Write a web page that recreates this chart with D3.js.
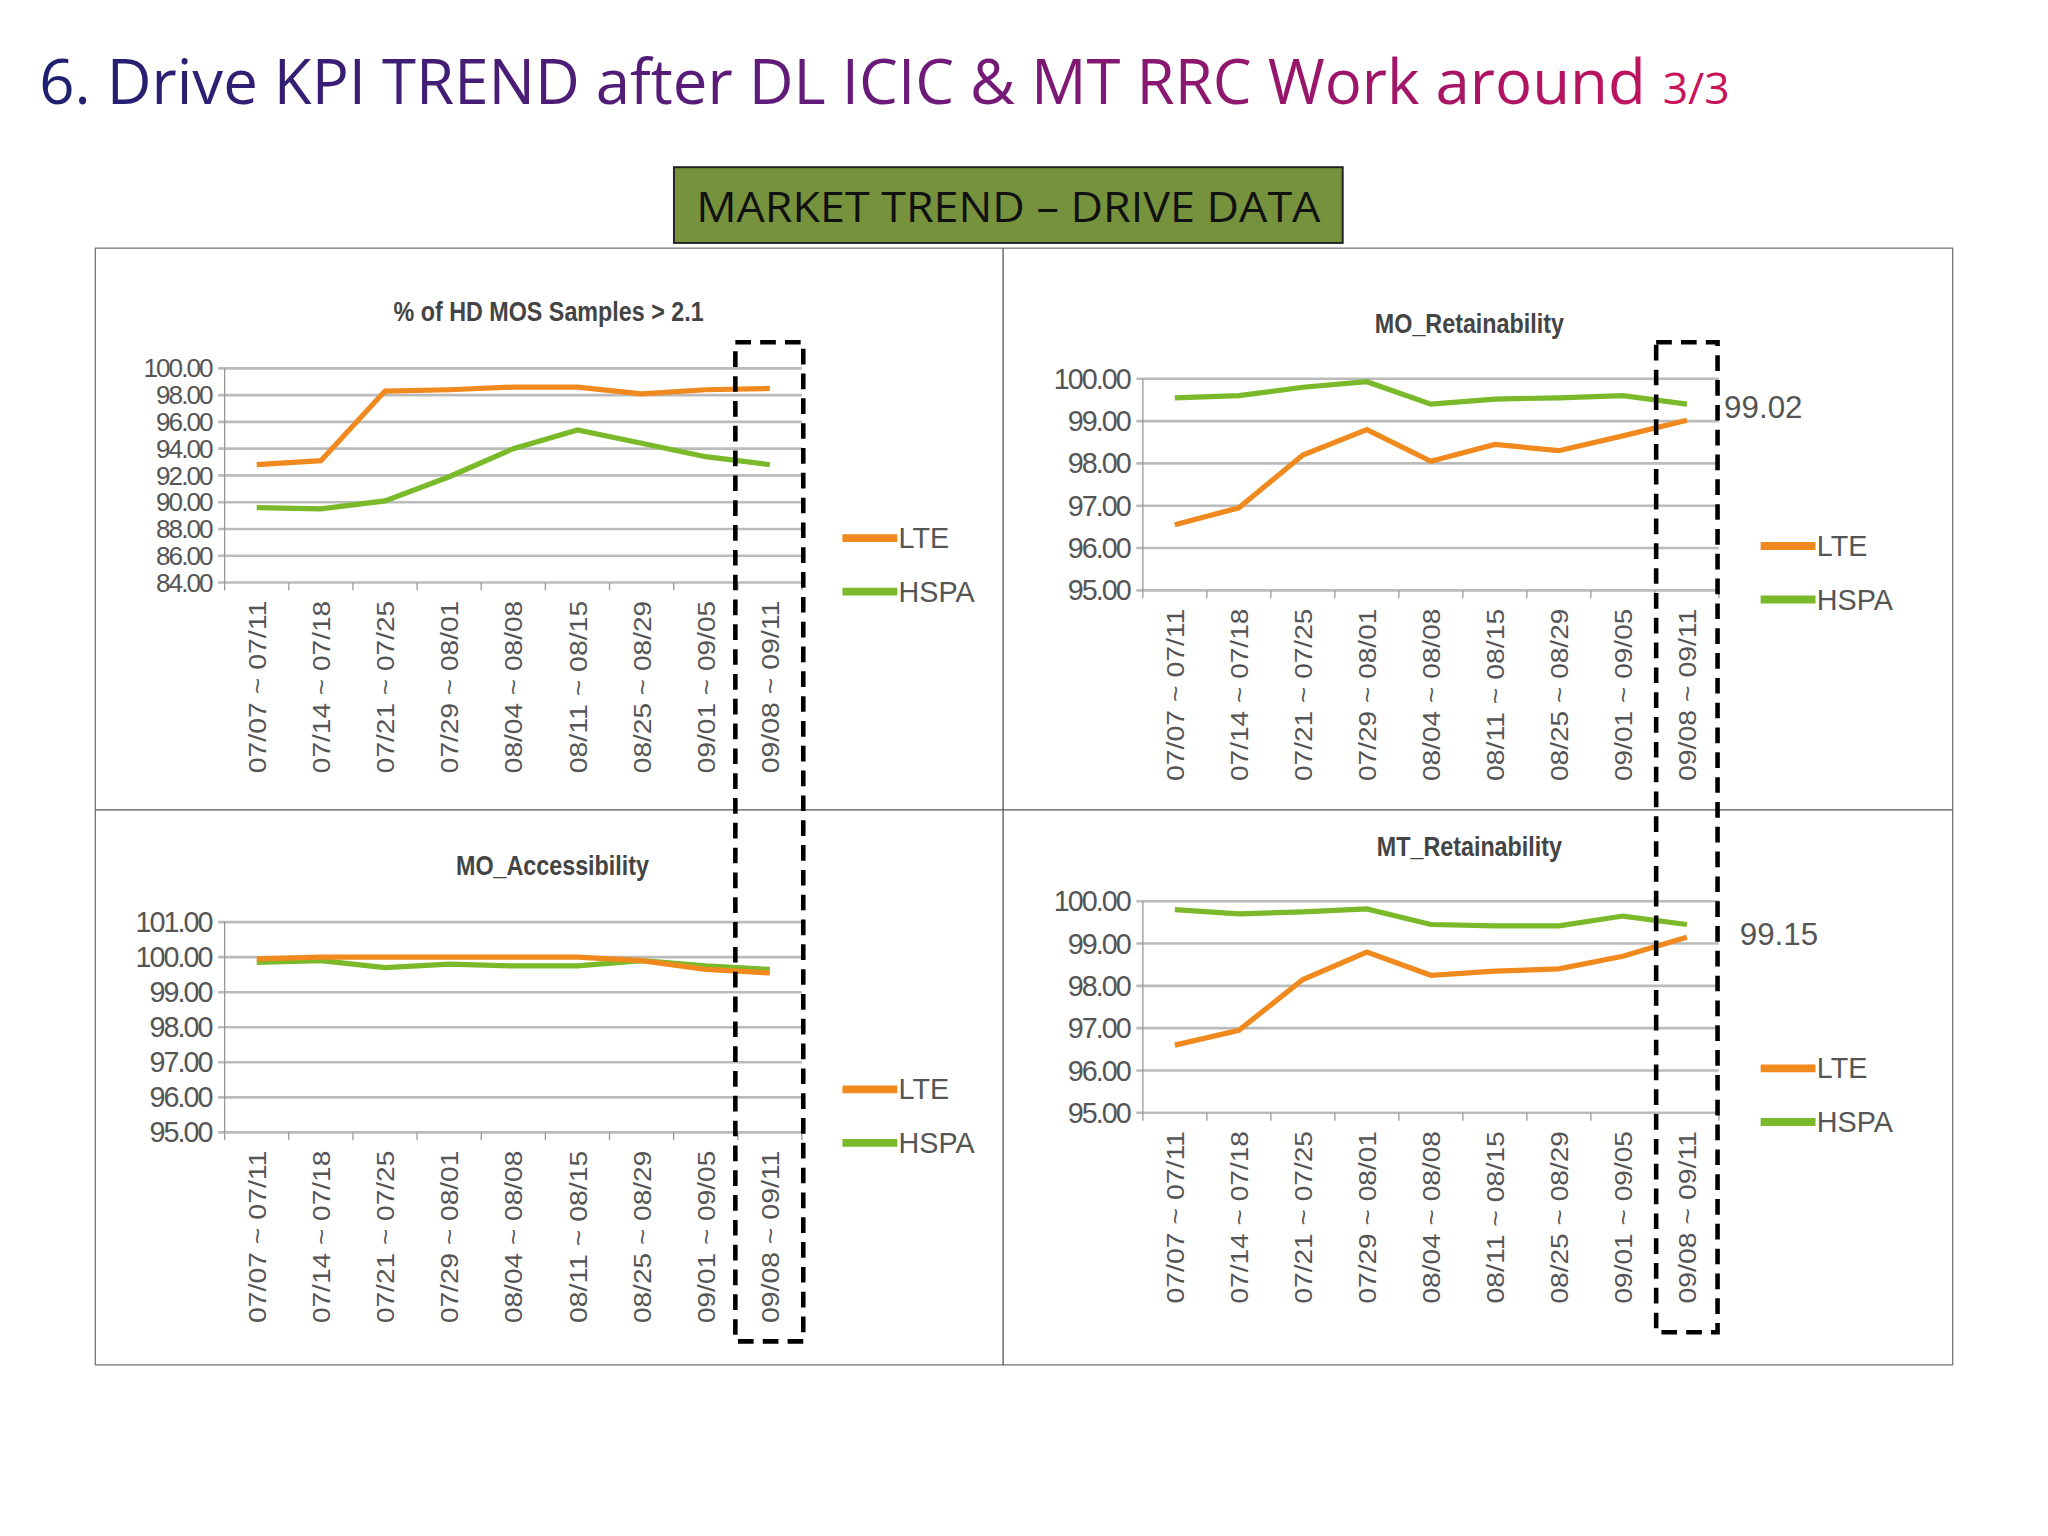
<!DOCTYPE html>
<html><head><meta charset="utf-8">
<script src="https://cdn.jsdelivr.net/npm/d3@7"></script>
<style>body{margin:0;background:#fff}</style>
</head><body><div id="chart"></div>
<script>
const categories = ['07/07 ~ 07/11','07/14 ~ 07/18','07/21 ~ 07/25','07/29 ~ 08/01','08/04 ~ 08/08','08/11 ~ 08/15','08/25 ~ 08/29','09/01 ~ 09/05','09/08 ~ 09/11']
const mosLTE = [92.8, 93.1, 98.3, 98.4, 98.6, 98.6, 98.1, 98.4, 98.5]
const mosHSPA = [89.6, 89.5, 90.1, 91.9, 94.0, 95.4, 94.4, 93.4, 92.8]
const moRetLTE = [96.55, 96.95, 98.2, 98.8, 98.05, 98.45, 98.3, 98.65, 99.02]
const moRetHSPA = [99.55, 99.6, 99.8, 99.93, 99.4, 99.52, 99.55, 99.6, 99.4]
const moAccLTE = [99.95, 100, 100, 100, 100, 100, 99.9, 99.65, 99.55]
const moAccHSPA = [99.85, 99.9, 99.7, 99.8, 99.75, 99.75, 99.9, 99.75, 99.65]
const mtRetLTE = [96.6, 96.95, 98.15, 98.8, 98.25, 98.35, 98.4, 98.7, 99.15]
const mtRetHSPA = [99.8, 99.7, 99.75, 99.82, 99.45, 99.42, 99.42, 99.65, 99.45]
const ticksMos = [84, 86, 88, 90, 92, 94, 96, 98, 100]
const ticksRet = [95, 96, 97, 98, 99, 100]
const ticksAcc = [95, 96, 97, 98, 99, 100, 101]

const svg = d3.select('#chart').append('svg')
	.attr('width', 2048).attr('height', 1536)
	.attr('viewBox', '0 0 1568 1176')
const font = 'Liberation Sans, Arial, sans-serif'

// title gradient
const grad = svg.append('defs').append('linearGradient').attr('id', 'tg')
	.attr('gradientUnits', 'userSpaceOnUse').attr('x1', 30).attr('x2', 1330)
grad.append('stop').attr('offset', '0%').attr('stop-color', '#1f2070')
grad.append('stop').attr('offset', '50%').attr('stop-color', '#6a1a7a')
grad.append('stop').attr('offset', '100%').attr('stop-color', '#c8125a')
svg.append('text').attr('x', 30).attr('y', 80)
	.attr('font-family', 'Open Sans, sans-serif').attr('font-size', 47)
	.attr('fill', 'url(#tg)').attr('textLength', 1230).attr('lengthAdjust', 'spacingAndGlyphs')
	.text('6. Drive KPI TREND after DL ICIC & MT RRC Work around')
svg.append('text').attr('x', 1273).attr('y', 80)
	.attr('font-family', 'Open Sans, sans-serif').attr('font-size', 34)
	.attr('fill', '#c8125a').text('3/3')

svg.append('rect').attr('x', 516).attr('y', 128).attr('width', 512).attr('height', 58)
	.attr('fill', '#76923c').attr('stroke', '#222').attr('stroke-width', 1.5)
svg.append('text').attr('x', 772).attr('y', 170).attr('text-anchor', 'middle')
	.attr('font-family', 'Open Sans, sans-serif').attr('font-size', 32).attr('fill', '#111')
	.attr('textLength', 478).attr('lengthAdjust', 'spacingAndGlyphs')
	.text('MARKET TREND – DRIVE DATA')

// frame
svg.append('rect').attr('x', 73).attr('y', 190).attr('width', 1422).attr('height', 855)
	.attr('fill', 'none').attr('stroke', '#777')
svg.append('line').attr('x1', 768).attr('x2', 768).attr('y1', 190).attr('y2', 1045).attr('stroke', '#555')
svg.append('line').attr('x1', 73).attr('x2', 1495).attr('y1', 620).attr('y2', 620).attr('stroke', '#555')

function drawChart(cfg) {
	const g = svg.append('g')
	const x = d3.scalePoint().domain(categories).range([cfg.x0, cfg.x1]).padding(0.5)
	const y = d3.scaleLinear().domain(d3.extent(cfg.ticks)).range([cfg.yb, cfg.yt])
	g.append('text').attr('x', cfg.tx).attr('y', cfg.ty).attr('text-anchor', 'middle')
		.attr('font-family', font).attr('font-size', 21).attr('fill', '#444')
		.attr('font-weight', 'bold').attr('transform', `translate(${cfg.tx},${cfg.ty}) scale(0.85,1) translate(${-cfg.tx},${-cfg.ty})`)
		.text(cfg.title)
	g.selectAll('.grid').data(cfg.ticks).join('line')
		.attr('x1', cfg.x0 - 5).attr('x2', cfg.x1).attr('y1', d => y(d)).attr('y2', d => y(d))
		.attr('stroke', '#bbb').attr('stroke-width', 2)
	g.append('line').attr('x1', cfg.x0).attr('x2', cfg.x0).attr('y1', cfg.yt).attr('y2', cfg.yb).attr('stroke', '#999')
	g.selectAll('.yl').data(cfg.ticks).join('text')
		.attr('x', cfg.x0 - 10).attr('y', d => y(d)).attr('dy', '0.35em').attr('text-anchor', 'end')
		.attr('font-family', font).attr('font-size', cfg.yfs).attr('fill', '#555')
		.attr('letter-spacing', -1.5).text(d => d.toFixed(2))
	const step = x.step()
	g.selectAll('.xt').data(d3.range(categories.length + 1)).join('line')
		.attr('x1', i => cfg.x0 + i * step).attr('x2', i => cfg.x0 + i * step)
		.attr('y1', cfg.yb).attr('y2', cfg.yb + 6).attr('stroke', '#999')
	g.selectAll('.xl').data(categories).join('text')
		.attr('transform', d => `translate(${x(d) + 7},${cfg.yb + 14}) rotate(-90)`)
		.attr('text-anchor', 'end').attr('font-family', font).attr('font-size', 19)
		.attr('textLength', 132).attr('lengthAdjust', 'spacingAndGlyphs')
		.attr('fill', '#555').text(d => d)
	const line = d3.line().x((d, i) => x(categories[i])).y(d => y(d))
	const series = [{v: cfg.hspa, c: '#7ab929', n: 'HSPA'}, {v: cfg.lte, c: '#f08a1e', n: 'LTE'}]
	series.forEach(s => g.append('path').attr('d', line(s.v)).attr('fill', 'none')
		.attr('stroke', s.c).attr('stroke-width', 4))
	;[series[1], series[0]].forEach((s, i) => {
		const ly = cfg.ly + i * 41
		g.append('line').attr('x1', cfg.lx).attr('x2', cfg.lx + 42).attr('y1', ly).attr('y2', ly)
			.attr('stroke', s.c).attr('stroke-width', 6)
		g.append('text').attr('x', cfg.lx + 43).attr('y', ly).attr('dy', '0.35em')
			.attr('font-family', font).attr('font-size', 22).attr('fill', '#555').text(s.n)
	})
	if (cfg.note) g.append('text').attr('x', cfg.note.x).attr('y', y(cfg.lte[8])).attr('dy', cfg.note.dy)
		.attr('font-family', font).attr('font-size', 24).attr('fill', '#555').text(cfg.lte[8].toFixed(2))
}

drawChart({title: '% of HD MOS Samples > 2.1', tx: 420, ty: 246, x0: 172, x1: 614, yt: 282, yb: 446,
	ticks: ticksMos, yfs: 20, lte: mosLTE, hspa: mosHSPA, lx: 645, ly: 412})
drawChart({title: 'MO_Retainability', tx: 1125, ty: 255, x0: 875, x1: 1316, yt: 290, yb: 452,
	ticks: ticksRet, yfs: 22, lte: moRetLTE, hspa: moRetHSPA, lx: 1348, ly: 418, note: {x: 1320, dy: -2}})
drawChart({title: 'MO_Accessibility', tx: 423, ty: 670, x0: 172, x1: 614, yt: 706, yb: 867,
	ticks: ticksAcc, yfs: 22, lte: moAccLTE, hspa: moAccHSPA, lx: 645, ly: 834})
drawChart({title: 'MT_Retainability', tx: 1125, ty: 655, x0: 875, x1: 1316, yt: 690, yb: 852,
	ticks: ticksRet, yfs: 22, lte: mtRetLTE, hspa: mtRetHSPA, lx: 1348, ly: 818, note: {x: 1332, dy: 6}})

// highlight boxes
const boxes = [{x: 563, y: 262, w: 52, h: 765}, {x: 1268, y: 262, w: 47, h: 758}]
svg.selectAll('.hb').data(boxes).join('rect')
	.attr('x', d => d.x).attr('y', d => d.y).attr('width', d => d.w).attr('height', d => d.h)
	.attr('fill', 'none').attr('stroke', '#000').attr('stroke-width', 3.5).attr('stroke-dasharray', '12,7')
</script></body></html>
